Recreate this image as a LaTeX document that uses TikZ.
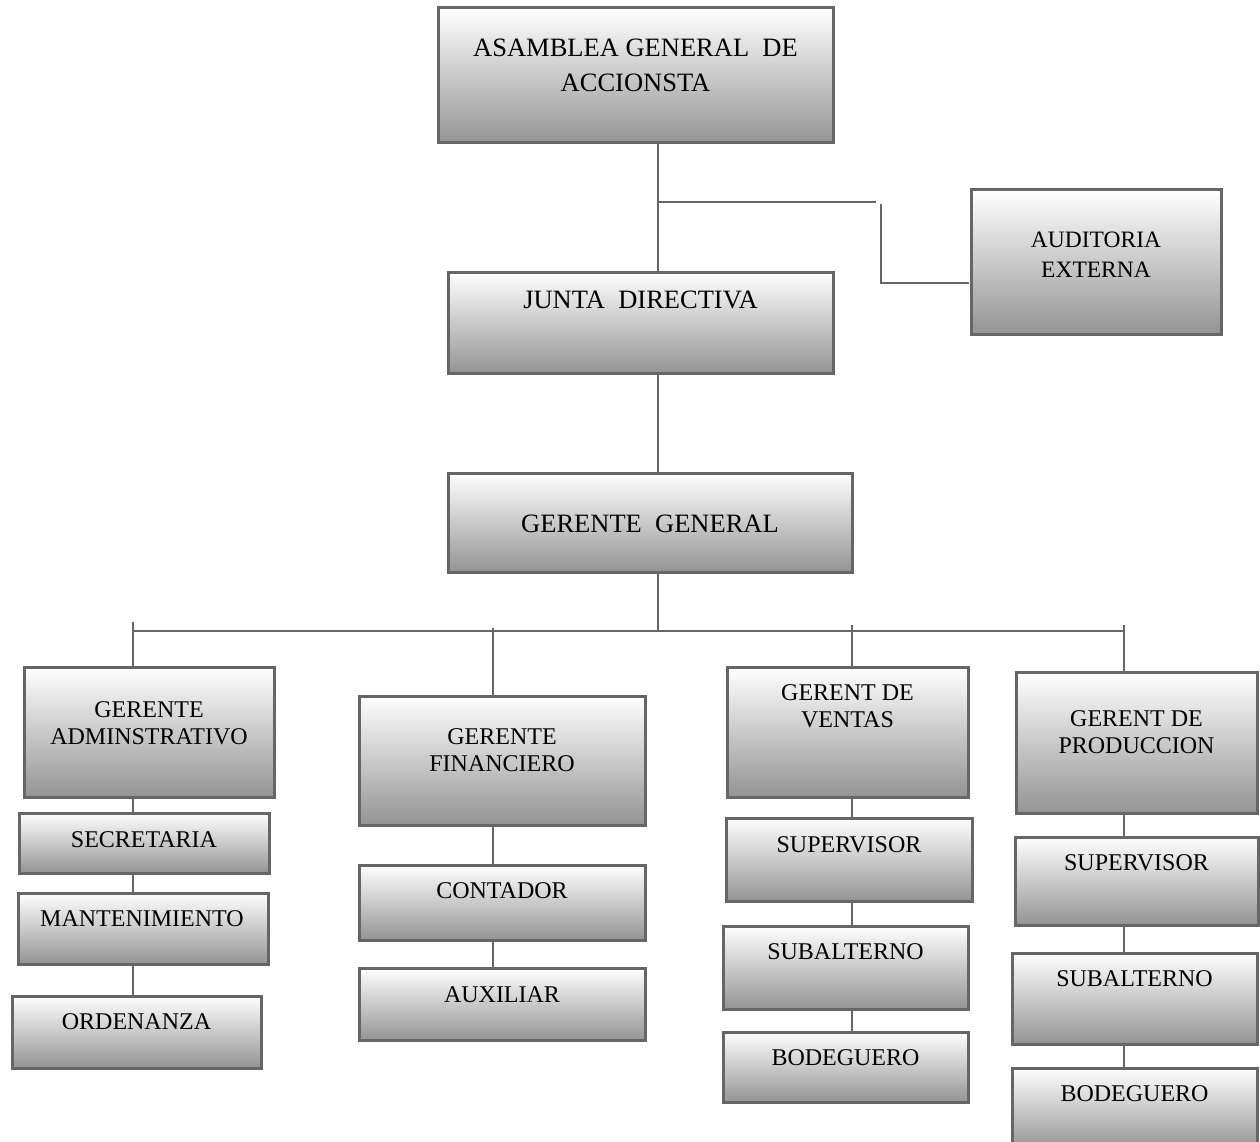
\documentclass[tikz,border=0pt]{standalone}
\usepackage{fontspec}
\setmainfont{Liberation Serif}
\definecolor{linecol}{HTML}{666666}
\newcommand\twol[2]{\begin{tabular}[t]{@{}c@{}}#1\\#2\end{tabular}}
\newcommand\orgnode[5]{%
  \pgfmathsetmacro\bw{#4-#2}\pgfmathsetmacro\bh{#5-#3}%
  \pgfmathsetmacro\bx{(#2+#4)/2}\pgfmathsetmacro\by{(#3+#5)/2}%
  \node[orgbox, minimum width=\bw pt, minimum height=\bh pt] (#1) at (\bx,\by) {};}
\begin{document}
\begin{tikzpicture}[x=1pt,y=-1pt,
  orgbox/.style={draw=linecol, line width=3pt, inner sep=0pt, outer sep=0pt,
    top color=white, middle color=black!14, bottom color=black!42},
  conn/.style={draw=linecol, line width=2.8pt},
  bigtxt/.style={font=\fontsize{26.5}{35}\selectfont, inner sep=0pt, anchor=base},
  smalltxt/.style={font=\fontsize{24}{27.5}\selectfont, inner sep=0pt, anchor=base},
  audtxt/.style={font=\fontsize{23.5}{30}\selectfont, inner sep=0pt, anchor=base}]
\useasboundingbox (0,0) rectangle (1260,1142);
\fill[white] (0,0) rectangle (1260,1142);

% boxes
\orgnode{asamblea}{438}{8}{833}{143}
\orgnode{auditoria}{971}{190}{1221}{334}
\orgnode{junta}{448}{272}{833}{373}
\orgnode{gg}{448}{473}{852}{572}
\orgnode{adm}{24}{667}{274}{797}
\orgnode{sec}{19}{813}{269}{873}
\orgnode{man}{18}{893}{268}{964}
\orgnode{ord}{12}{996}{261}{1068}
\orgnode{fin}{359}{696}{645}{825}
\orgnode{con}{359}{865}{645}{940}
\orgnode{aux}{359}{968}{645}{1040}
\orgnode{ven}{727}{667}{968}{797}
\orgnode{supa}{726}{818}{972}{901}
\orgnode{suba}{723}{926}{968}{1009}
\orgnode{boda}{723}{1032}{968}{1102}
\orgnode{pro}{1016}{672}{1257}{813}
\orgnode{supb}{1015}{837}{1258}{925}
\orgnode{subb}{1012}{953}{1257}{1044}
\orgnode{bodb}{1012}{1068}{1257}{1150}

% texts
\node[bigtxt] (asamblea-t) at (635.5,57) {\twol{ASAMBLEA GENERAL\ \ DE}{ACCIONSTA}};
\node[audtxt] (auditoria-t) at (1096,247) {\twol{AUDITORIA}{EXTERNA}};
\node[bigtxt] (junta-t) at (640.5,308) {JUNTA\ \ DIRECTIVA};
\node[bigtxt] (gg-t) at (650,532) {GERENTE\ \ GENERAL};
\node[smalltxt] (adm-t) at (149,717) {\twol{GERENTE}{ADMINSTRATIVO}};
\node[smalltxt] (sec-t) at (144,847) {SECRETARIA};
\node[smalltxt] (man-t) at (142,926) {MANTENIMIENTO};
\node[smalltxt] (ord-t) at (136.5,1029) {ORDENANZA};
\node[smalltxt] (fin-t) at (502,744) {\twol{GERENTE}{FINANCIERO}};
\node[smalltxt] (con-t) at (502,898) {CONTADOR};
\node[smalltxt] (aux-t) at (502,1002) {AUXILIAR};
\node[smalltxt] (ven-t) at (847.5,700) {\twol{GERENT DE}{VENTAS}};
\node[smalltxt] (supa-t) at (849,852) {SUPERVISOR};
\node[smalltxt] (suba-t) at (845.5,959) {SUBALTERNO};
\node[smalltxt] (boda-t) at (845.5,1065) {BODEGUERO};
\node[smalltxt] (pro-t) at (1136.5,726) {\twol{GERENT DE}{PRODUCCION}};
\node[smalltxt] (supb-t) at (1136.5,870) {SUPERVISOR};
\node[smalltxt] (subb-t) at (1134.5,986) {SUBALTERNO};
\node[smalltxt] (bodb-t) at (1134.5,1101) {BODEGUERO};

% coordinates
\coordinate (spine) at (658,0);
\coordinate (br1) at (658,202);
\coordinate (br2) at (876,202);
\coordinate (br3) at (881,204);
\coordinate (audin) at (969,283);
\coordinate (busC) at (658,631);
\coordinate (busL) at (133,631);
\coordinate (busR) at (1124,631);
\coordinate (t1) at (133,622);
\coordinate (t2) at (493,628);
\coordinate (t3) at (852,625);
\coordinate (t4) at (1124,625);

% connectors
\draw[conn] (asamblea.south -| spine) -- (junta.north -| spine);
\draw[conn] (br1) -- (br2);
\draw[conn] (br3) |- (audin);
\draw[conn] (junta.south -| spine) -- (gg.north -| spine);
\draw[conn] (gg.south -| spine) -- (busC);
\draw[conn] (busL) -- (busR);
\draw[conn] (t1) -- (t1 |- adm.north);
\draw[conn] (t2) -- (t2 |- fin.north);
\draw[conn] (t3) -- (t3 |- ven.north);
\draw[conn] (t4) -- (t4 |- pro.north);
\draw[conn] (adm.south -| t1) -- (sec.north -| t1);
\draw[conn] (sec.south -| t1) -- (man.north -| t1);
\draw[conn] (man.south -| t1) -- (ord.north -| t1);
\draw[conn] (fin.south -| t2) -- (con.north -| t2);
\draw[conn] (con.south -| t2) -- (aux.north -| t2);
\draw[conn] (ven.south -| t3) -- (supa.north -| t3);
\draw[conn] (supa.south -| t3) -- (suba.north -| t3);
\draw[conn] (suba.south -| t3) -- (boda.north -| t3);
\draw[conn] (pro.south -| t4) -- (supb.north -| t4);
\draw[conn] (supb.south -| t4) -- (subb.north -| t4);
\draw[conn] (subb.south -| t4) -- (bodb.north -| t4);
\end{tikzpicture}
\end{document}
